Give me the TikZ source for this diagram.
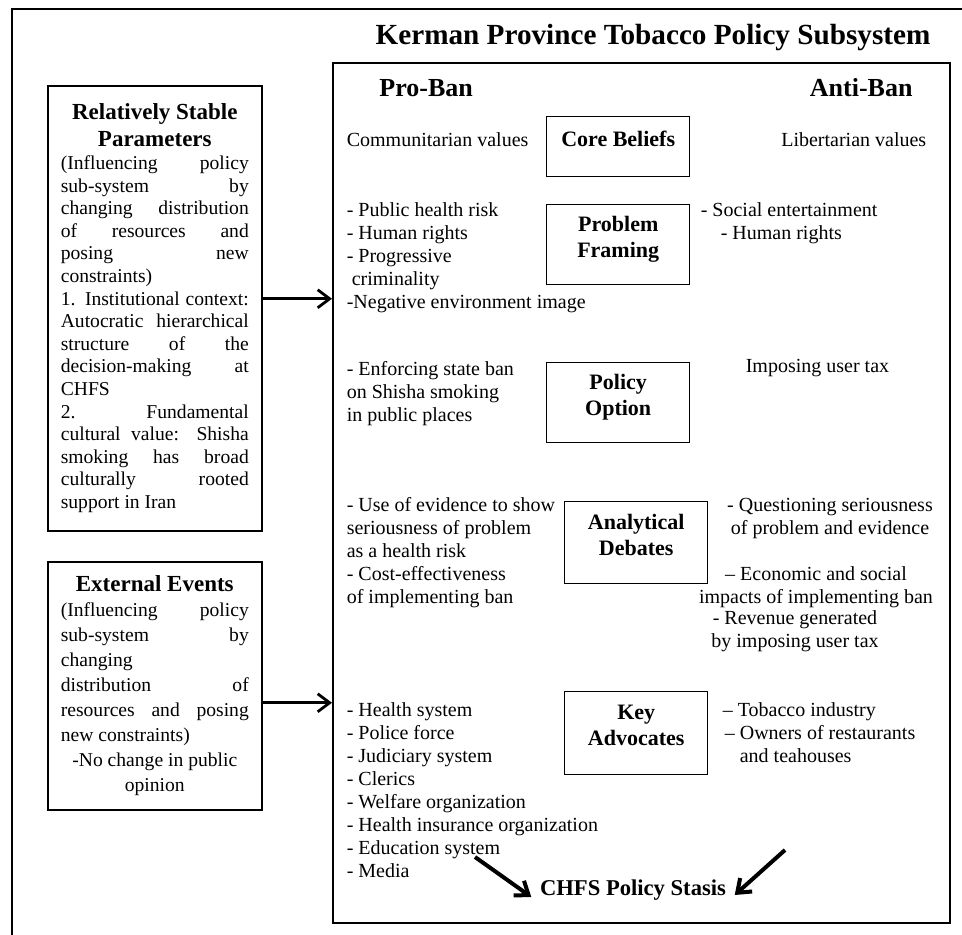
\documentclass[tikz,border=0pt]{standalone}
\usepackage{fontspec}
\setmainfont{Liberation Serif}
\usetikzlibrary{arrows.meta, positioning}

\begin{document}
\begin{tikzpicture}[x=0.5pt,y=-0.5pt,>={Straight Barb[length=6pt,width=9pt]},line width=0.8pt,
	font=\fontsize{10}{11.5}\selectfont]

	\tikzset{stage box/.style={draw, line width=0.7pt, anchor=north west,
			minimum width=71.5pt, minimum height=40pt, align=center, inner sep=2pt,
			text depth=8pt, font=\bfseries\fontsize{11}{13}\selectfont},
		side list/.style={inner sep=0pt, align=left},
		param box/.style={draw, anchor=north west, text width=94pt, inner xsep=6.5pt,
			align=justify, execute at begin node={\parindent=0pt\tolerance=10000\hbadness=10000}},
		push/.style={line width=1.4pt, ->}}

	\useasboundingbox (0,0) rectangle (962,935);
	\draw (962,9) -| (12,935);

	\node[font=\bfseries\fontsize{14.6}{17}\selectfont] (title) at (653,38)
		{Kerman Province Tobacco Policy Subsystem};
	\node[draw, inner sep=0pt, anchor=north west, minimum width=308.5pt,
		minimum height=430pt] (subsys) at (332,62) {};
	\node[font=\bfseries\fontsize{13}{15}\selectfont, anchor=west] (pro) at (372,88) {Pro-Ban};
	\node[font=\bfseries\fontsize{13}{15}\selectfont, anchor=east] (anti) at (920,88) {Anti-Ban};

	% stages
	\node[stage box, minimum height=30pt] (core) at (546,116) {Core Beliefs};
	\node[stage box] (frame) at (546,204) {Problem\\Framing};
	\node[stage box] (option) at (546,362) {Policy\\Option};
	\node[stage box, minimum height=41pt] (debate) at (564,501) {Analytical\\Debates};
	\node[stage box, minimum height=41.5pt] (advocate) at (564,691) {Key\\Advocates};

	% pro-ban side
	\node[side list, anchor=west] (core pro) at (346,140) {Communitarian values};
	\node[side list, anchor=north west] (frame pro) at (346,202)
		{- Public health risk\\- Human rights\\- Progressive\\\hspace{2.5pt}criminality\\-Negative environment image};
	\node[side list, anchor=north west] (option pro) at (346,361)
		{- Enforcing state ban\\on Shisha smoking\\in public places};
	\node[side list, anchor=north west] (debate pro) at (346,497)
		{- Use of evidence to show\\seriousness of problem\\as a health risk\\- Cost-effectiveness\\of implementing ban};
	\node[side list, anchor=north west] (advocate pro) at (346,702)
		{- Health system\\- Police force\\- Judiciary system\\- Clerics\\- Welfare organization\\- Health insurance organization\\- Education system\\- Media};

	% anti-ban side
	\node[side list, anchor=east] (core anti) at (927,140) {Libertarian values};
	\node[side list, anchor=north west] (frame anti) at (700,202)
		{- Social entertainment\\\hspace{10pt}- Human rights};
	\node[side list, anchor=west] (option anti) at (745,368) {Imposing user tax};
	\node[side list, anchor=north, align=center] (debate anti) at (830,497)
		{- Questioning seriousness\\of problem and evidence};
	\node[side list, anchor=north, align=center] (impact anti) at (816,566)
		{-- Economic and social\\impacts of implementing ban};
	\node[side list, anchor=north, align=center] (revenue anti) at (795,610)
		{- Revenue generated\\by imposing user tax};
	\node[side list, anchor=north west] (advocate anti) at (722,702)
		{-- Tobacco industry\\\hspace{1pt}-- Owners of restaurants\\\hspace{8.5pt}and teahouses};

	% outside the subsystem
	\node[param box, minimum height=222.5pt, font=\fontsize{9.8}{11.3}\selectfont] (stable) at (47,85)
		{{\centering\bfseries\fontsize{11.5}{13.5}\selectfont Relatively Stable\\Parameters\par}
		(Influencing policy\linebreak sub-system by\linebreak changing distribution\linebreak
		of resources and\linebreak posing new\linebreak constraints)\par
		1. Institutional context:\linebreak Autocratic hierarchical\linebreak structure of the\linebreak
		decision-making at\linebreak CHFS\par
		2. Fundamental\linebreak cultural value: Shisha\linebreak smoking has broad\linebreak
		culturally rooted\linebreak support in Iran};
	\node[param box, minimum height=124pt, font=\fontsize{9.8}{12.5}\selectfont] (events) at (47,561)
		{{\centering\bfseries\fontsize{11.5}{13.5}\selectfont External Events\par}
		(Influencing policy\linebreak sub-system by\linebreak changing\linebreak distribution of\linebreak
		resources and posing\linebreak new constraints)\par
		{\centering -No change in public\\opinion\par}};

	\draw[push] ([yshift=4.75pt]stable.east) -- ([yshift=4.75pt]stable.east -| subsys.west);
	\draw[push] ([yshift=-8.5pt]events.east) -- ([yshift=-8.5pt]events.east -| subsys.west);

	% outcome
	\node[font=\bfseries\fontsize{11.3}{13}\selectfont, inner sep=0pt] (stasis) at (633,890)
		{CHFS Policy Stasis};
	\coordinate (from pro) at (475,857);
	\coordinate (from anti) at (785,850);
	\draw[line width=2pt, ->] (from pro) -- ([xshift=-4pt,yshift=-3.5pt]stasis.west);
	\draw[line width=2pt, ->] (from anti) -- ([xshift=4pt,yshift=-2.5pt]stasis.east);

\end{tikzpicture}
\end{document}
